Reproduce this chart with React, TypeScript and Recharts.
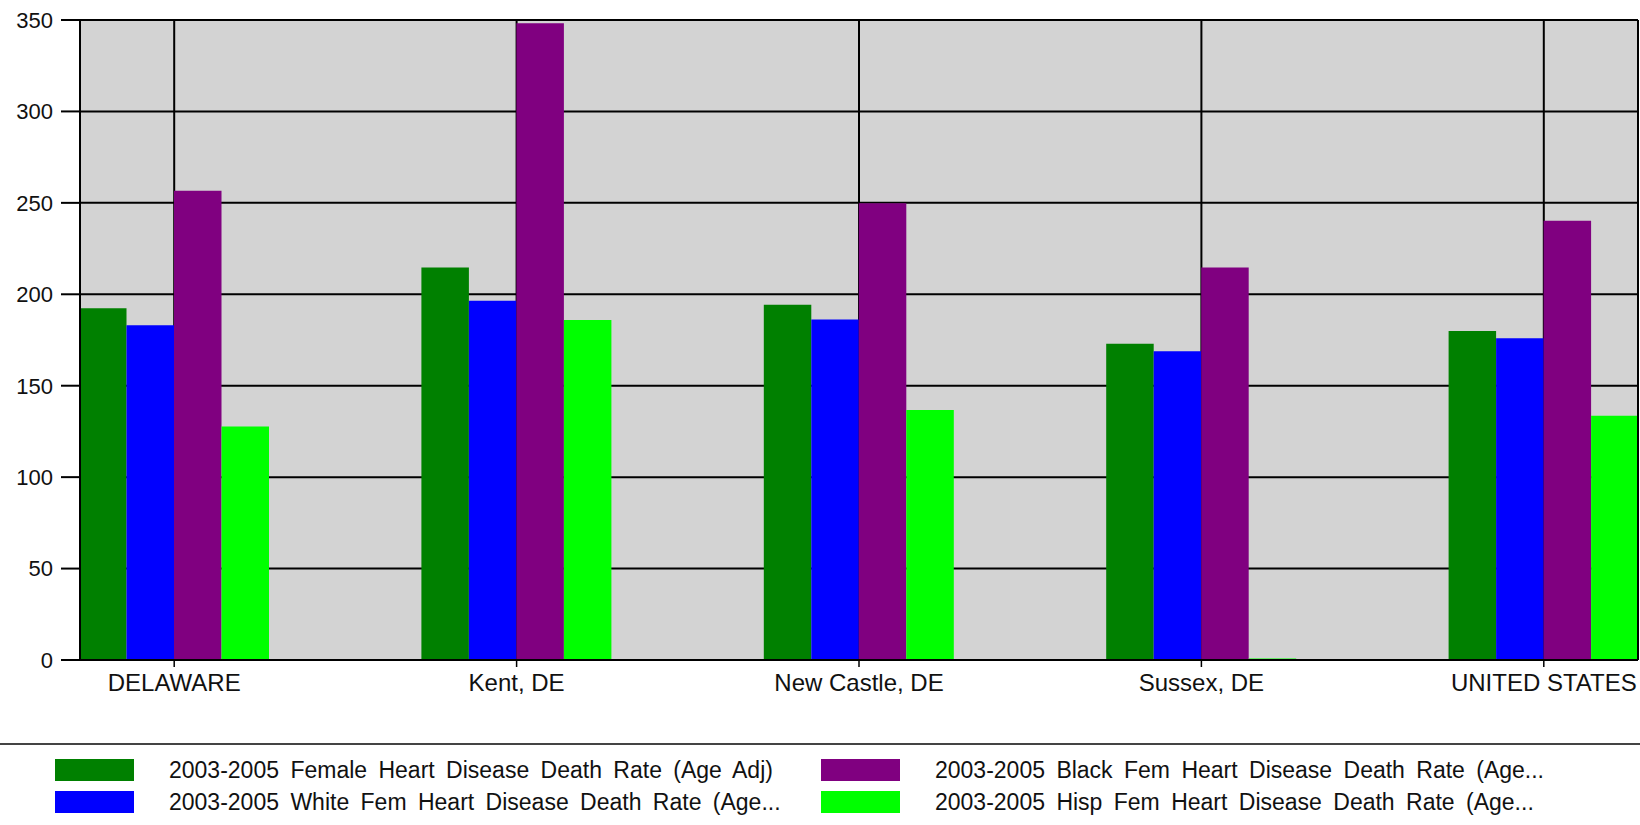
import React from 'react';
import { BarChart, Bar, XAxis, YAxis, CartesianGrid, Legend } from 'recharts';

const categories = ['DELAWARE', 'Kent, DE', 'New Castle, DE', 'Sussex, DE', 'UNITED STATES'];
const femaleRate = [192.4, 214.7, 194.3, 173, 179.9];
const whiteFemRate = [183.1, 196.5, 186.2, 168.9, 175.9];
const blackFemRate = [256.6, 348.2, 249.8, 214.7, 240.2];
const hispFemRate = [127.7, 186, 136.7, 0.8, 133.6];
const yTicks = [0, 50, 100, 150, 200, 250, 300, 350];

const seriesNames = [
  '2003-2005 Female Heart Disease Death Rate (Age Adj)',
  '2003-2005 White Fem Heart Disease Death Rate (Age...',
  '2003-2005 Black Fem Heart Disease Death Rate (Age...',
  '2003-2005 Hisp Fem Heart Disease Death Rate (Age...',
];
const seriesColors = ['#008000', '#0000ff', '#800080', '#00ff00'];

const data = categories.map((name, i) => ({
  name,
  female: femaleRate[i],
  white: whiteFemRate[i],
  black: blackFemRate[i],
  hisp: hispFemRate[i],
}));

const FONT = '"Liberation Sans", Arial, sans-serif';

const LegendContent = (props: any) => {
  const payload = props.payload || [];
  return (
    <div
      style={{
        position: 'relative',
        width: 1640,
        height: 82,
        boxSizing: 'border-box',
        borderTop: '2px solid #444',
        fontFamily: FONT,
      }}
    >
      {payload.map((entry: any, k: number) => {
        const idx = seriesNames.indexOf(entry.value);
        const i = idx >= 0 ? idx : k;
        const col = Math.floor(i / 2);
        const row = i % 2;
        const swLeft = col === 0 ? 55 : 821;
        const txtLeft = col === 0 ? 169 : 935;
        const swTop = row === 0 ? 14 : 46;
        const center = row === 0 ? 25 : 57;
        return (
          <React.Fragment key={k}>
            <div
              style={{
                position: 'absolute',
                left: swLeft,
                top: swTop,
                width: 79,
                height: 22,
                background: entry.color,
              }}
            />
            <div
              style={{
                position: 'absolute',
                left: txtLeft,
                top: center - 14,
                height: 28,
                lineHeight: '28px',
                fontSize: 23,
                color: '#111',
                whiteSpace: 'nowrap',
                wordSpacing: 5,
              }}
            >
              {entry.value}
            </div>
          </React.Fragment>
        );
      })}
    </div>
  );
};

export default function App() {
  return (
    <div style={{ position: 'absolute', left: 0, top: 0, width: 1640, height: 825, background: '#fff' }}>
      <BarChart
        width={1640}
        height={825}
        data={data}
        margin={{ top: 20, right: 0, left: 0, bottom: 0 }}
        barSize={47.5}
        barGap={0}
      >
        <CartesianGrid stroke="#000" strokeWidth={2} fill="#d3d3d3" fillOpacity={1} />
        <XAxis
          dataKey="name"
          height={83}
          tickSize={7}
          tickMargin={7}
          interval={0}
          padding={{ left: -77, right: -77 }}
          axisLine={{ stroke: '#000', strokeWidth: 2 }}
          tickLine={{ stroke: '#000', strokeWidth: 1.5 }}
          tick={{ fill: '#111', fontSize: 24, fontFamily: FONT }}
        />
        <YAxis
          width={80}
          domain={[0, 350]}
          ticks={yTicks}
          tickSize={19}
          tickMargin={8}
          interval={0}
          axisLine={{ stroke: '#000', strokeWidth: 2 }}
          tickLine={{ stroke: '#000', strokeWidth: 2 }}
          tick={{ fill: '#111', fontSize: 22, fontFamily: FONT }}
        />
        <YAxis
          yAxisId="right"
          orientation="right"
          width={2}
          domain={[0, 350]}
          tick={false}
          tickLine={false}
          axisLine={{ stroke: '#000', strokeWidth: 2 }}
        />
        <Legend
          verticalAlign="bottom"
          itemSorter={null as any}
          content={<LegendContent />}
          wrapperStyle={{ left: 0, bottom: 0, width: 1640, height: 82 }}
        />
        <Bar dataKey="female" name={seriesNames[0]} fill={seriesColors[0]} isAnimationActive={false} />
        <Bar dataKey="white" name={seriesNames[1]} fill={seriesColors[1]} isAnimationActive={false} />
        <Bar dataKey="black" name={seriesNames[2]} fill={seriesColors[2]} isAnimationActive={false} />
        <Bar dataKey="hisp" name={seriesNames[3]} fill={seriesColors[3]} isAnimationActive={false} />
      </BarChart>
    </div>
  );
}
